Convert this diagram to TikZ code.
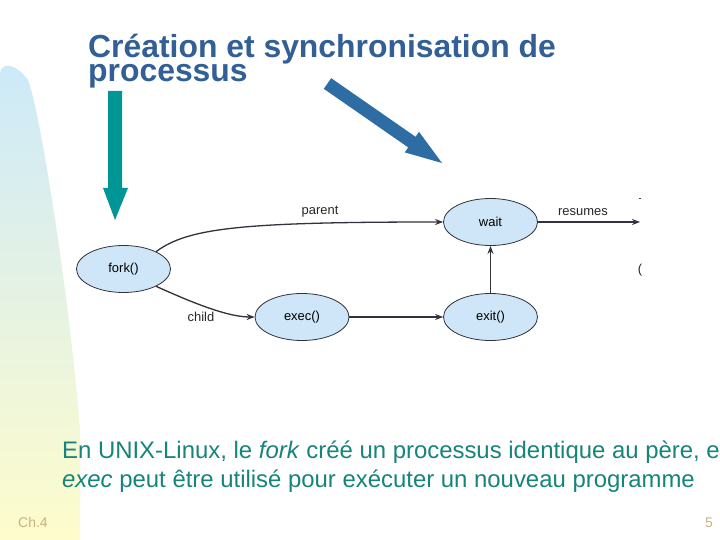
\documentclass[tikz,border=0pt]{standalone}
\usepackage{fontspec}
\setmainfont{Liberation Sans}
\usetikzlibrary{arrows.meta,shapes.geometric}
\definecolor{titleblue}{RGB}{49,95,150}
\definecolor{tealarrow}{RGB}{0,150,150}
\definecolor{arrowblue}{RGB}{46,108,164}
\definecolor{bodyteal}{RGB}{22,132,122}
\definecolor{ellfill}{RGB}{206,230,247}
\definecolor{ellline}{RGB}{50,50,60}
\definecolor{stripblue}{RGB}{205,233,249}
\definecolor{stripyellow}{RGB}{254,252,204}
\definecolor{footcol}{RGB}{205,175,125}
\begin{document}
\begin{tikzpicture}[x=1bp,y=-1bp,
  proc/.style={ellipse, draw=ellline, line width=0.8bp, fill=ellfill,
    minimum width=94bp, minimum height=47bp, inner sep=0pt,
    font=\fontsize{13}{15}\selectfont},
  conn/.style={draw=ellline, line width=1.3bp, -{Stealth[length=8bp,width=6bp]}},
  lab/.style={font=\fontsize{13}{15}\selectfont, text=black!85, inner sep=1bp},
  titletext/.style={font=\fontsize{32}{25}\bfseries\selectfont, text=titleblue, inner sep=0pt, align=left, anchor=base west},
  bodytext/.style={font=\fontsize{24}{29}\selectfont, text=bodyteal, inner sep=0pt, anchor=base west},
  foottext/.style={font=\fontsize{14}{16}\selectfont, text=footcol, inner sep=0pt}]
\useasboundingbox (0,0) rectangle (720,540);
\clip (0,0) rectangle (720,540);
\fill[white] (0,0) rectangle (720,540);
% left decorative strip
\shade[top color=stripblue, bottom color=stripyellow]
  (0,540) -- (0,75) .. controls (0,62) and (15,62) .. (28,80)
  .. controls (40,110) and (70,300) .. (80,430) -- (80,540) -- cycle;
% title (base anchor = baseline of its last line)
\node[titletext] (title) at (88,82) {Création et synchronisation de\\processus};
% teal arrow
\fill[tealarrow] (108,91) -- (122,91) -- (122,188) -- (128,188) -- (115,220)
  -- (103,188) -- (108,188) -- cycle;
% blue arrow
\fill[arrowblue] (331.2,78.2) -- (415.6,136.8) -- (419.0,131.8) -- (442,163)
  -- (404.8,152.4) -- (408.2,147.4) -- (323.8,88.8) -- cycle;
% diagram
\node[proc] (fork) at (123.5,269) {fork()};
\node[proc] (wait) at (490.5,222) {wait};
\node[proc] (exec) at (302,317) {exec()};
\node[proc] (exit) at (490.5,317) {exit()};
\coordinate (res) at (640,222);
\draw[conn] (fork.28) .. controls +(32,-24) and +(-200,0) .. (wait.west);
\draw[conn] (fork.-28) .. controls +(27,12) and +(-30,0) .. (exec.west);
\draw[conn] (exec.east) -- (exit.west);
\draw[conn] (exit.north) -- (wait.south);
\draw[conn] (wait.east) -- (res);
\node[lab] (parentlab) at (320,212) {parent};
\node[lab] (childlab) at (201,317) {child};
\node[lab] (reslab) at (583,212) {resumes};
\node[lab, inner sep=0pt] (paren) at (640,270) {(};
\draw[black!70, line width=0.6bp] (639,198) -- (641,198);
% body text
\node[bodytext] (b1) at (62,458) {En UNIX-Linux, le \textit{fork} créé un processus identique au père, e};
\node[bodytext] (b2) at (62,487) {\textit{exec} peut être utilisé pour exécuter un nouveau programme};
% footer
\node[foottext, anchor=base west] (ch) at (18,527) {Ch.4};
\node[foottext, anchor=base east] (pg) at (713,527) {5};
\end{tikzpicture}
\end{document}
